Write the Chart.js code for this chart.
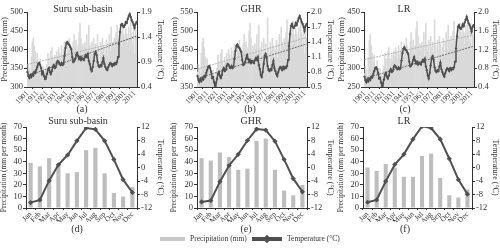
<!DOCTYPE html>
<html>
<head>
<meta charset="utf-8">
<script src="https://cdn.jsdelivr.net/npm/chart.js@4.4.1/dist/chart.umd.min.js"></script>
<style>
  body { margin: 0; background: #fff; font-family: "Liberation Serif", "Times New Roman", serif; color: #333; }
  #wrap { position: relative; width: 500px; height: 249px; overflow: hidden; }
  canvas { position: absolute; }
  .lbl { position: absolute; font-size: 10px; transform: translateX(-50%); white-space: nowrap; will-change: transform; }
  .leg { position: absolute; top: 234px; font-size: 7.5px; color: #333; white-space: nowrap; will-change: transform; }
</style>
</head>
<body>
<div id="wrap">
  <canvas id="ca" width="165" height="106" style="left:0;top:0"></canvas>
  <canvas id="cb" width="165" height="106" style="left:170px;top:0"></canvas>
  <canvas id="cc" width="163" height="106" style="left:337px;top:0"></canvas>
  <canvas id="cd" width="165" height="104" style="left:0;top:118px"></canvas>
  <canvas id="ce" width="165" height="104" style="left:170px;top:118px"></canvas>
  <canvas id="cf" width="163" height="104" style="left:337px;top:118px"></canvas>

  <div class="lbl" style="left:83px;top:3px">Suru sub-basin</div>
  <div class="lbl" style="left:251px;top:3px">GHR</div>
  <div class="lbl" style="left:404px;top:3px">LR</div>
  <div class="lbl" style="left:82px;top:103px">(a)</div>
  <div class="lbl" style="left:250px;top:103px">(b)</div>
  <div class="lbl" style="left:405px;top:103px">(c)</div>
  <div class="lbl" style="left:78px;top:115px">Suru sub-basin</div>
  <div class="lbl" style="left:251px;top:115px">GHR</div>
  <div class="lbl" style="left:404px;top:115px">LR</div>
  <div class="lbl" style="left:77px;top:223px">(d)</div>
  <div class="lbl" style="left:246px;top:223px">(e)</div>
  <div class="lbl" style="left:405px;top:223px">(f)</div>

  <div class="leg" style="left:160px"><span style="display:inline-block;width:25px;height:4px;background:#c8c8c8;vertical-align:middle;margin-right:5px"></span>Precipitation (mm)</div>
  <div class="leg" style="left:252px">
    <span style="display:inline-block;position:relative;width:30px;height:8px;vertical-align:middle;margin-right:5px">
      <span style="position:absolute;left:0;top:2px;width:30px;height:4px;background:#505050"></span>
      <span style="position:absolute;left:12px;top:1px;width:6px;height:6px;background:#505050;transform:rotate(45deg)"></span>
    </span>Temperature (°C)</div>
</div>

<script>
// annual series, 1901-2013
const years = [];
for (let y = 1901; y <= 2013; y++) years.push(y);

const suruPrecip = [
  340, 360, 350, 335, 380, 420, 430, 410, 395, 370,
  390, 360, 345, 375, 350, 330, 355, 340, 325, 345,
  360, 390, 375, 350, 395, 405, 380, 360, 385, 370,
  395, 380, 405, 390, 375, 410, 385, 400, 420, 395,
  380, 415, 400, 430, 410, 395, 385, 420, 440, 405,
  425, 390, 410, 445, 470, 430, 400, 415, 395, 420,
  405, 440, 380, 465, 410, 395, 420, 385, 430, 400,
  415, 390, 440, 405, 350, 420, 395, 430, 410, 385,
  400, 425, 380, 415, 440, 395, 460, 420, 405, 430,
  410, 445, 465, 420, 395, 435, 450, 410, 470, 440,
  425, 455, 440, 410, 460, 430, 480, 445, 415, 470,
  390, 455, 430
];
const suruTemp = [
  0.70, 0.62, 0.58, 0.64, 0.60, 0.66, 0.63, 0.70, 0.68, 0.74,
  0.80, 0.86, 0.88, 0.84, 0.78, 0.66, 0.70, 0.62, 0.56, 0.60,
  0.66, 0.74, 0.78, 0.70, 0.66, 0.72, 0.80, 0.84, 0.78, 0.80,
  0.88, 0.92, 0.90, 0.86, 0.84, 0.88, 0.84, 0.86, 1.02, 1.18,
  1.28, 1.30, 1.26, 1.24, 1.20, 1.16, 1.00, 0.90, 0.92, 0.96,
  1.04, 1.08, 1.02, 0.96, 1.00, 0.94, 0.98, 0.96, 0.94, 1.00,
  1.04, 1.00, 1.06, 0.92, 0.86, 0.76, 0.72, 0.80, 0.92, 1.06,
  1.10, 1.04, 0.90, 0.82, 0.80, 0.84, 0.82, 0.90, 0.98, 0.86,
  0.80, 0.76, 0.74, 0.80, 0.84, 0.88, 0.86, 0.82, 0.86, 0.84,
  0.88, 0.86, 0.90, 1.00, 1.26, 1.50, 1.64, 1.66, 1.62, 1.60,
  1.64, 1.70, 1.68, 1.76, 1.82, 1.86, 1.80, 1.74, 1.70, 1.64,
  1.58, 1.66, 1.70
];
const ghrPrecip = [
  390, 410, 400, 385, 440, 470, 480, 455, 430, 405,
  425, 400, 385, 410, 395, 375, 395, 380, 365, 390,
  400, 435, 420, 395, 440, 450, 420, 405, 430, 415,
  440, 425, 450, 435, 420, 455, 430, 445, 465, 440,
  425, 460, 445, 475, 455, 440, 430, 465, 490, 450,
  470, 435, 455, 500, 520, 480, 445, 460, 440, 465,
  450, 490, 425, 515, 455, 440, 470, 430, 480, 450,
  465, 435, 535, 455, 400, 470, 445, 480, 460, 430,
  450, 475, 425, 465, 490, 445, 510, 470, 455, 480,
  460, 495, 530, 470, 445, 485, 500, 460, 525, 490,
  475, 505, 490, 460, 510, 480, 530, 495, 465, 520,
  440, 505, 480
];
const ghrTemp = [
  0.72, 0.64, 0.60, 0.66, 0.62, 0.68, 0.65, 0.72, 0.70, 0.78,
  0.84, 0.90, 0.92, 0.88, 0.80, 0.68, 0.70, 0.60, 0.52, 0.58,
  0.66, 0.76, 0.80, 0.72, 0.68, 0.74, 0.84, 0.88, 0.82, 0.84,
  0.92, 0.96, 0.94, 0.90, 0.88, 0.92, 0.88, 0.90, 1.06, 1.22,
  1.32, 1.35, 1.30, 1.28, 1.24, 1.20, 1.04, 0.94, 0.96, 1.00,
  1.08, 1.14, 1.06, 1.00, 1.04, 0.98, 1.02, 1.00, 0.98, 1.04,
  1.08, 1.04, 1.10, 0.94, 0.86, 0.74, 0.70, 0.80, 0.96, 1.12,
  1.16, 1.08, 0.92, 0.84, 0.82, 0.86, 0.84, 0.94, 1.02, 0.88,
  0.82, 0.76, 0.72, 0.80, 0.86, 0.90, 0.88, 0.84, 0.90, 0.86,
  0.90, 0.88, 0.92, 1.04, 1.32, 1.56, 1.72, 1.76, 1.70, 1.68,
  1.72, 1.78, 1.74, 1.82, 1.88, 1.92, 1.86, 1.80, 1.76, 1.70,
  1.62, 1.72, 1.76
];
const lrPrecip = [
  285, 305, 295, 280, 330, 375, 390, 360, 340, 315,
  335, 305, 290, 320, 300, 280, 300, 285, 270, 295,
  305, 340, 325, 300, 345, 355, 325, 310, 335, 320,
  345, 330, 355, 340, 325, 360, 335, 350, 370, 345,
  330, 365, 350, 380, 360, 345, 335, 370, 395, 355,
  375, 340, 360, 405, 425, 385, 350, 365, 345, 370,
  355, 395, 330, 420, 360, 345, 375, 335, 385, 355,
  370, 340, 430, 360, 305, 375, 350, 385, 365, 335,
  355, 380, 330, 370, 395, 350, 415, 375, 360, 385,
  365, 400, 425, 375, 350, 390, 405, 365, 420, 395,
  380, 410, 395, 365, 415, 385, 425, 400, 370, 420,
  345, 410, 385
];
const lrTemp = [
  0.62, 0.54, 0.50, 0.56, 0.52, 0.58, 0.55, 0.62, 0.60, 0.68,
  0.74, 0.80, 0.82, 0.78, 0.70, 0.58, 0.60, 0.50, 0.42, 0.48,
  0.56, 0.66, 0.70, 0.62, 0.58, 0.64, 0.74, 0.78, 0.72, 0.74,
  0.82, 0.86, 0.84, 0.80, 0.78, 0.82, 0.78, 0.80, 0.96, 1.12,
  1.22, 1.25, 1.20, 1.18, 1.14, 1.10, 0.94, 0.84, 0.86, 0.90,
  0.98, 1.04, 0.96, 0.90, 0.94, 0.88, 0.92, 0.90, 0.88, 0.94,
  0.98, 0.94, 1.00, 0.84, 0.76, 0.64, 0.58, 0.70, 0.86, 1.02,
  1.06, 0.98, 0.82, 0.74, 0.72, 0.76, 0.74, 0.84, 0.92, 0.78,
  0.72, 0.66, 0.62, 0.70, 0.76, 0.80, 0.78, 0.74, 0.80, 0.76,
  0.80, 0.78, 0.82, 0.94, 1.22, 1.48, 1.68, 1.72, 1.66, 1.64,
  1.68, 1.74, 1.70, 1.78, 1.84, 1.90, 1.82, 1.76, 1.72, 1.66,
  1.58, 1.68, 1.72
];

// trend line end values (first year, last year)
const suruPrecipTrend = [360, 432];
const suruTempTrend = [0.62, 1.42];
const ghrPrecipTrend = [398, 482];
const ghrTempTrend = [0.67, 1.36];
const lrPrecipTrend = [323, 389];
const lrTempTrend = [0.58, 1.27];

// monthly climatology
const months = ["Jan", "Feb", "Mar", "Apr", "May", "Jun", "Jul", "Aug", "Sep", "Oct", "Nov", "Dec"];
const suruMonthPrecip = [39, 36, 43, 38, 30, 31, 50, 52, 30, 13, 10, 18];
const suruMonthTemp = [-10.4, -9.6, -3.9, 0.8, 3.7, 7.9, 11.7, 11.3, 7.9, 2.4, -3.6, -7.4];
const ghrMonthPrecip = [43, 41, 48, 44, 33, 34, 58, 60, 33, 15, 11, 20];
const ghrMonthTemp = [-10.2, -9.8, -4.2, 0.6, 3.9, 8.0, 11.4, 11.1, 7.8, 2.4, -3.3, -7.2];
const lrMonthPrecip = [35, 32, 38, 35, 27, 27, 45, 47, 26, 11, 9, 16];
const lrMonthTemp = [-10.3, -9.6, -4.1, 0.9, 3.9, 8.4, 12.2, 11.7, 8.4, 2.6, -3.6, -7.9];

const FONT = "'Liberation Serif', 'Times New Roman', serif";
const AX = "#333";
const LINE = "#505050";

function trendData(n, ends) {
  const d = new Array(n).fill(null);
  d[0] = ends[0];
  d[n - 1] = ends[1];
  return d;
}

function yAxis(pos, min, max, step, title, width, dec, titleSize) {
  return {
    position: pos,
    min: min, max: max,
    grid: { drawOnChartArea: false, drawTicks: true, tickLength: 3, color: AX },
    border: { color: AX, width: 1 },
    ticks: {
      stepSize: step, autoSkip: false, color: AX, padding: 1,
      font: { family: FONT, size: 8.5 },
      callback: v => dec ? Number(v).toFixed(dec) : v
    },
    title: { display: true, text: title, color: AX, padding: 0, font: { family: FONT, size: titleSize } },
    afterFit: s => { s.width = width; }
  };
}

function annualChart(id, precip, temp, pTrend, tTrend, pAx, tAx, lw, rw) {
  const n = years.length;
  new Chart(document.getElementById(id), {
    data: {
      labels: years,
      datasets: [
        { type: "line", data: temp, yAxisID: "yT", borderColor: LINE, borderWidth: 1.5,
          pointStyle: "rectRot", pointRadius: 1.4, pointBackgroundColor: LINE, pointBorderWidth: 0, order: 1 },
        { type: "line", data: trendData(n, tTrend), yAxisID: "yT", borderColor: "#6e6e6e", borderWidth: 1,
          borderDash: [2, 1], pointRadius: 0, spanGaps: true, order: 2 },
        { type: "line", data: trendData(n, pTrend), yAxisID: "yP", borderColor: "#b4b4b4", borderWidth: 1,
          borderDash: [2, 1], pointRadius: 0, spanGaps: true, order: 3 },
        { type: "bar", data: precip, yAxisID: "yP", backgroundColor: "#d9d9d9",
          barPercentage: 1, categoryPercentage: 1, order: 4 }
      ]
    },
    options: {
      responsive: false, animation: false,
      layout: { padding: { top: 12 } },
      plugins: { legend: { display: false }, tooltip: { enabled: false } },
      scales: {
        x: {
          offset: true,
          grid: { drawOnChartArea: false, drawTicks: true, tickLength: 2, color: AX },
          border: { color: AX, width: 1 },
          ticks: {
            autoSkip: false, minRotation: 45, maxRotation: 45, padding: 0, color: AX,
            font: { family: FONT, size: 7.5 },
            callback: function (v) {
              const y = this.getLabelForValue(v);
              return (y - 1901) % 10 === 0 ? String(y) : null;
            }
          },
          afterFit: s => { s.height = 19; }
        },
        yP: yAxis("left", pAx[0], pAx[1], pAx[2], "Precipitation (mm)", lw, 0, 8.5),
        yT: yAxis("right", tAx[0], tAx[1], tAx[2], "Temperature (°C)", rw, 1, 8.5)
      }
    }
  });
}

function monthlyChart(id, precip, temp, lw, rw) {
  new Chart(document.getElementById(id), {
    data: {
      labels: months,
      datasets: [
        { type: "line", data: temp, yAxisID: "yT", borderColor: LINE, borderWidth: 2,
          pointStyle: "rectRot", pointRadius: 2.6, pointBackgroundColor: LINE, pointBorderWidth: 0, order: 1 },
        { type: "bar", data: precip, yAxisID: "yP", backgroundColor: "#bdbdbd",
          barPercentage: 0.45, categoryPercentage: 1, order: 2 }
      ]
    },
    options: {
      responsive: false, animation: false,
      layout: { padding: { top: 9 } },
      plugins: { legend: { display: false }, tooltip: { enabled: false } },
      scales: {
        x: {
          offset: true,
          grid: { drawOnChartArea: false, drawTicks: true, tickLength: 2, color: AX },
          border: { color: AX, width: 1 },
          ticks: { autoSkip: false, minRotation: 45, maxRotation: 45, padding: 0, color: AX,
                   font: { family: FONT, size: 7.5 } },
          afterFit: s => { s.height = 14; }
        },
        yP: yAxis("left", 0, 70, 10, "Precipitation (mm per month)", lw, 0, 7.5),
        yT: yAxis("right", -12, 12, 4, "Temperature (°C)", rw, 0, 8)
      }
    }
  });
}

annualChart("ca", suruPrecip, suruTemp, suruPrecipTrend, suruTempTrend, [300, 500, 50], [0.4, 1.9, 0.5], 27, 28);
annualChart("cb", ghrPrecip, ghrTemp, ghrPrecipTrend, ghrTempTrend, [350, 550, 50], [0.5, 2.0, 0.3], 27, 28);
annualChart("cc", lrPrecip, lrTemp, lrPrecipTrend, lrTempTrend, [250, 450, 50], [0.4, 2.0, 0.4], 27, 26);

monthlyChart("cd", suruMonthPrecip, suruMonthTemp, 26, 28);
monthlyChart("ce", ghrMonthPrecip, ghrMonthTemp, 27, 28);
monthlyChart("cf", lrMonthPrecip, lrMonthTemp, 26, 28);
</script>
</body>
</html>
